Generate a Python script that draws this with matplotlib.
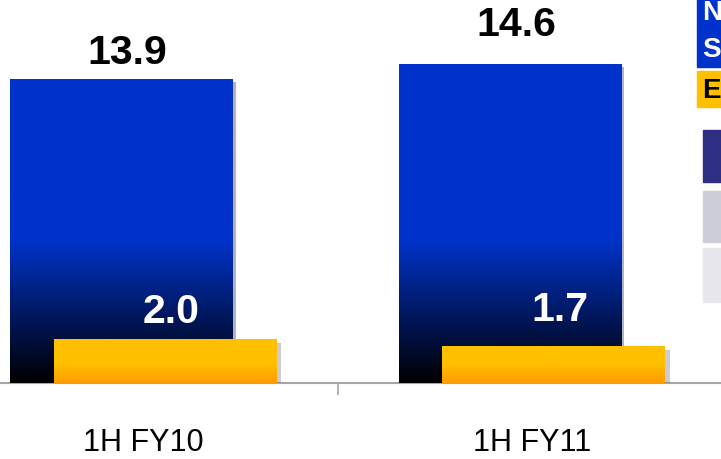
import numpy as np
import matplotlib
matplotlib.use('Agg')
import matplotlib.pyplot as plt
import matplotlib.patheffects as pe
from matplotlib.patches import Rectangle
from matplotlib.colors import to_rgb

periods = ['1H FY10', '1H FY11']
net_sales = [13.9, 14.6]
ebit = [2.0, 1.7]

# label offsets above bar tops (pixels)
sales_lift = [27, 40]
ebit_lift = [28, 37]

blue = to_rgb('#0033cc')
orange_top = to_rgb('#ffc000')
orange_bottom = to_rgb('#ff9c00')

plt.rcParams['font.family'] = ['Liberation Sans', 'DejaVu Sans']

fig = plt.figure(figsize=(7.21, 4.6), dpi=100)
ax = fig.add_axes([0, 76 / 460, 1, 384 / 460])

x = np.arange(len(periods))
width = 0.574
shift = 0.0566


def fill_gradient(bar, colour_at):
    x0, y0 = bar.get_x(), bar.get_y()
    x1, y1 = x0 + bar.get_width(), y0 + bar.get_height()
    ys = np.linspace(y1, y0, 200)
    img = np.array([colour_at(v) for v in ys])[:, None, :]
    im = ax.imshow(img, extent=[x0, x1, y0, y1], aspect='auto',
                   zorder=bar.get_zorder() + 0.1, interpolation='bilinear')
    im.set_clip_path(bar)


def blue_at(v):
    t = min(max(v / 6.6, 0), 1)
    return [c * t for c in blue]


def orange_at(v):
    t = min(max(v / 0.9, 0), 1)
    return [b + (a - b) * t for a, b in zip(orange_top, orange_bottom)]


blue_shadow = [pe.SimplePatchShadow(offset=(2, -2), shadow_rgbFace='#000040', alpha=0.3), pe.Normal()]
orange_shadow = [pe.SimplePatchShadow(offset=(3, -3), shadow_rgbFace='#707070', alpha=0.35), pe.Normal()]

blue_bars = ax.bar(x - shift, net_sales, width, color=blue, zorder=2, path_effects=blue_shadow)
orange_bars = ax.bar(x + shift, ebit, width, color=orange_top, zorder=4, path_effects=orange_shadow)

for b in blue_bars:
    fill_gradient(b, blue_at)
for b in orange_bars:
    fill_gradient(b, orange_at)

for b, v, lift in zip(blue_bars, net_sales, sales_lift):
    ax.annotate(f'{v:.1f}', (b.get_x() + b.get_width() / 2, v), xytext=(6, lift),
                textcoords='offset pixels', ha='center', va='center',
                fontsize=29.5, fontweight='bold', color='black')

for b, v, lift in zip(orange_bars, ebit, ebit_lift):
    ax.annotate(f'{v:.1f}', (b.get_x() + b.get_width() / 2, v), xytext=(6, lift),
                textcoords='offset pixels', ha='center', va='center',
                fontsize=29.5, fontweight='bold', color='white', zorder=6)

ax.set_xlim(-0.3694, 1.4865)
ax.set_ylim(0, 17.57)

for s in ['top', 'left', 'right']:
    ax.spines[s].set_visible(False)
ax.spines['bottom'].set_color('#a6a6a6')
ax.spines['bottom'].set_linewidth(1.5)
ax.spines['bottom'].set_zorder(1)
ax.set_yticks([])
ax.set_xticks(x, periods)
ax.set_xticks([0.5], minor=True)
ax.tick_params(axis='x', which='major', length=0, pad=32, labelsize=22)
ax.tick_params(axis='x', which='minor', length=8.6, width=1.2, color='#a6a6a6')

# legend / table pieces cut off at the right edge
def fig_rect(x0, y0, x1, y1, colour, **kw):
    fig.patches.append(Rectangle((x0 / 721, 1 - y1 / 460), (x1 - x0) / 721, (y1 - y0) / 460,
                                 transform=fig.transFigure, color=colour, **kw))

fig_rect(697, 0, 740, 68, '#0033cc')
fig_rect(697, 72, 740, 108, '#ffc000')
fig_rect(703, 131, 740, 183, '#2e2e82')
fig_rect(703, 192, 740, 243, '#cdcdd8')
fig_rect(703, 249, 740, 303, '#e6e6ec')

fig.text(702 / 721, 1 - 13 / 460, 'N', color='white', fontsize=20, fontweight='bold', va='center')
fig.text(702 / 721, 1 - 50 / 460, 'S', color='white', fontsize=20, fontweight='bold', va='center')
fig.text(702 / 721, 1 - 91 / 460, 'E', color='black', fontsize=20, fontweight='bold', va='center')

fig.savefig('out.png', dpi=100)
